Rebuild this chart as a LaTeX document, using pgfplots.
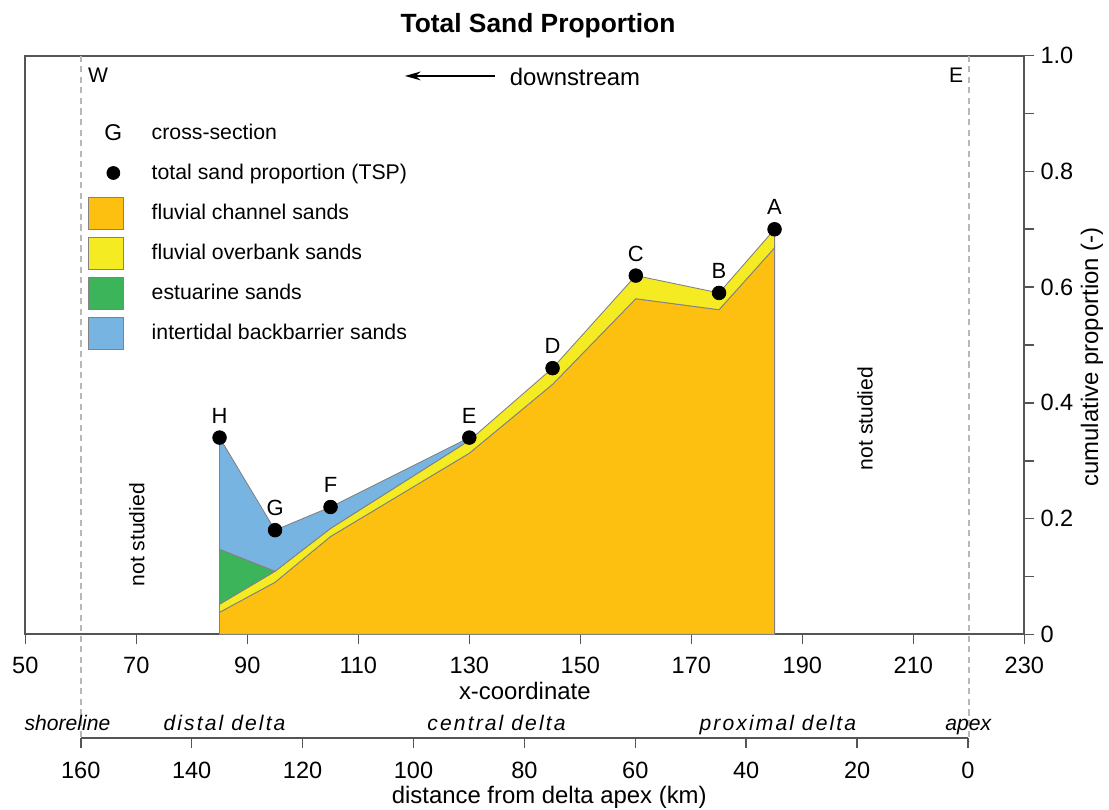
\documentclass[border=0pt]{standalone}
\usepackage{pgfplots}
\pgfplotsset{compat=1.18}
\usepackage{fontspec}
\setmainfont{Liberation Sans}
\newfontfamily\spacedfont[LetterSpace=10]{Liberation Sans}
\usetikzlibrary{arrows.meta}
\definecolor{chan}{RGB}{253,192,16}
\definecolor{overb}{RGB}{245,235,35}
\definecolor{estu}{RGB}{60,180,90}
\definecolor{inter}{RGB}{120,180,225}
\definecolor{axgray}{RGB}{85,85,85}
\definecolor{outl}{RGB}{130,130,130}
\newcommand{\fs}[1]{\fontsize{#1}{#1}\selectfont}
\newcommand{\legbox}{\path[draw=none,fill=none] (0cm,-0.4cm) rectangle (0.7cm,0.4cm);}
\begin{document}
\begin{tikzpicture}
\begin{axis}[
  name=main, at={(0,0)}, anchor=south west,
  scale only axis, width=19.98cm, height=11.572cm,
  xmin=50, xmax=230, ymin=0, ymax=1,
  xtick={50,70,90,110,130,150,170,190,210,230},
  xticklabels={50,70,90,110,130,150,170,190,210,230},
  ytick={0,0.2,0.4,0.6,0.8,1},
  yticklabels={0,0.2,0.4,0.6,0.8,1.0},
  minor ytick={0.1,0.3,0.5,0.7,0.9},
  xtick pos=bottom, ytick pos=right, yticklabel pos=right,
  tick align=outside, major tick length=0.2cm, minor tick length=0.2cm,
  axis line style={draw=axgray, line width=1pt},
  every tick/.style={axgray, line width=0.9pt},
  /pgf/number format/assume math mode=true,
  ticklabel style={font=\fs{13.4}},
  xticklabel style={yshift=-0.14cm},
  xlabel={x-coordinate},
  xlabel style={at={(axis description cs:0.5,0)}, anchor=center, yshift=-1.14cm, font=\fs{13.6}},
  clip=false,
  legend cell align=left,
  legend style={at={(axis cs:61.3,0.901)}, anchor=north west, draw=none, fill=none,
    inner sep=0pt, outer sep=0pt, row sep=0pt, column sep=0.56cm,
    nodes={inner sep=0pt}, font=\fs{12.1}},
]
% dashed boundary lines
\addplot[forget plot, draw=black!28, line width=0.8pt, dash pattern=on 3.5pt off 2.5pt] coordinates {(60,1) (60,-0.186)};
\addplot[forget plot, draw=black!28, line width=0.8pt, dash pattern=on 3.5pt off 2.5pt] coordinates {(220,1) (220,-0.186)};
% fluvial channel sands
\addplot[forget plot, fill=chan, draw=outl, line width=0.5pt] coordinates {
 (85,0) (85,0.038) (95,0.090) (105,0.169) (130,0.313) (145,0.432) (160,0.580) (175,0.561) (185,0.668) (185,0)} -- cycle;
% fluvial overbank sands
\addplot[forget plot, fill=overb, draw=outl, line width=0.5pt] coordinates {
 (85,0.038) (95,0.090) (105,0.169) (130,0.313) (145,0.432) (160,0.580) (175,0.561) (185,0.668)
 (185,0.700) (175,0.590) (160,0.620) (145,0.460) (130,0.335) (105,0.183) (95,0.109) (85,0.052)} -- cycle;
% estuarine sands
\addplot[forget plot, fill=estu, draw=outl, line width=0.5pt] coordinates {
 (85,0.052) (95,0.109) (85,0.147)} -- cycle;
% intertidal backbarrier sands
\addplot[forget plot, fill=inter, draw=outl, line width=0.5pt] coordinates {
 (85,0.147) (95,0.109) (105,0.183) (130,0.335) (130,0.340) (105,0.220) (95,0.180) (85,0.340)} -- cycle;
% TSP points with cross-section labels
\addplot[forget plot, only marks, mark=*, mark size=3.9pt, black,
  nodes near coords, point meta=explicit symbolic,
  nodes near coords style={anchor=center, yshift=0.44cm, font=\fs{12.5}, black}]
 table[meta=lab] {
x y lab
85 0.34 H
95 0.18 G
105 0.22 F
130 0.34 E
145 0.46 D
160 0.62 C
175 0.59 B
185 0.70 A
};
% downstream arrow
\addplot[forget plot, black, line width=0.8pt, -{Stealth[length=9pt,width=5pt]}] coordinates {(134.6,0.965) (118.4,0.965)};
\node[anchor=west, font=\fs{13.6}] at (axis cs:136.2,0.963) {downstream};
\node[font=\fs{12}] at (axis cs:63.1,0.967) {W};
\node[font=\fs{12}] at (axis cs:217.7,0.967) {E};
\node[rotate=90, font=\fs{12}] at (axis cs:70.1,0.172) {not studied};
\node[rotate=90, font=\fs{12}] at (axis cs:201.3,0.373) {not studied};
% zone labels
\node[anchor=base, font=\fs{12}\itshape] at (axis cs:57.6,-0.1654) {shoreline};
\node[anchor=base, font=\fs{12}\spacedfont\itshape] at (axis cs:85.9,-0.1654) {distal delta};
\node[anchor=base, font=\fs{12}\spacedfont\itshape] at (axis cs:134.9,-0.1654) {central delta};
\node[anchor=base, font=\fs{12}\spacedfont\itshape] at (axis cs:185.6,-0.1654) {proximal delta};
\node[anchor=base, font=\fs{12}\itshape] at (axis cs:219.9,-0.1654) {apex};
% legend
\addlegendimage{legend image code/.code={\legbox \node[font=\fs{13}, inner sep=0pt, anchor=center, draw=none, fill=none] at (0.5cm,-0.02cm) {G};}}
\addlegendentry{cross-section}
\addlegendimage{legend image code/.code={\legbox \fill[black] (0.5cm,0cm) circle (0.13cm);}}
\addlegendentry{total sand proportion (TSP)}
\addlegendimage{legend image code/.code={\legbox \draw[fill=chan, draw=outl] (0cm,-0.32cm) rectangle (0.7cm,0.32cm);}}
\addlegendentry{fluvial channel sands}
\addlegendimage{legend image code/.code={\legbox \draw[fill=overb, draw=outl] (0cm,-0.32cm) rectangle (0.7cm,0.32cm);}}
\addlegendentry{fluvial overbank sands}
\addlegendimage{legend image code/.code={\legbox \draw[fill=estu, draw=outl] (0cm,-0.32cm) rectangle (0.7cm,0.32cm);}}
\addlegendentry{estuarine sands}
\addlegendimage{legend image code/.code={\legbox \draw[fill=inter, draw=outl] (0cm,-0.32cm) rectangle (0.7cm,0.32cm);}}
\addlegendentry{intertidal backbarrier sands}
\end{axis}
\begin{axis}[
  at={(1.11cm,-2.068cm)}, anchor=south west,
  scale only axis, width=17.744cm, height=1cm,
  xmin=0, xmax=160, x dir=reverse, ymin=0, ymax=1,
  hide y axis, axis x line*=bottom,
  xtick={0,20,40,60,80,100,120,140,160},
  xticklabels={0,20,40,60,80,100,120,140,160},
  xtick pos=bottom, tick align=outside, major tick length=0.2cm,
  axis line style={draw=axgray, line width=1pt},
  every tick/.style={axgray, line width=0.9pt},
  ticklabel style={font=\fs{13.4}},
  xticklabel style={yshift=-0.16cm},
  xlabel={distance from delta apex (km)},
  xlabel style={at={(axis description cs:0.528,0)}, anchor=center, yshift=-1.186cm, font=\fs{13.6}},
]
\addplot[draw=none, forget plot] coordinates {(0,0) (160,0)};
\end{axis}
\node[font=\fs{15}\bfseries] at (10.254,12.166) {Total Sand Proportion};
\node[rotate=90, font=\fs{13.6}] at (21.334,5.546) {cumulative proportion (-)};
\pgfresetboundingbox
\path[use as bounding box] (-0.506,-3.494) rectangle (21.674,12.686);
\end{tikzpicture}
\end{document}
